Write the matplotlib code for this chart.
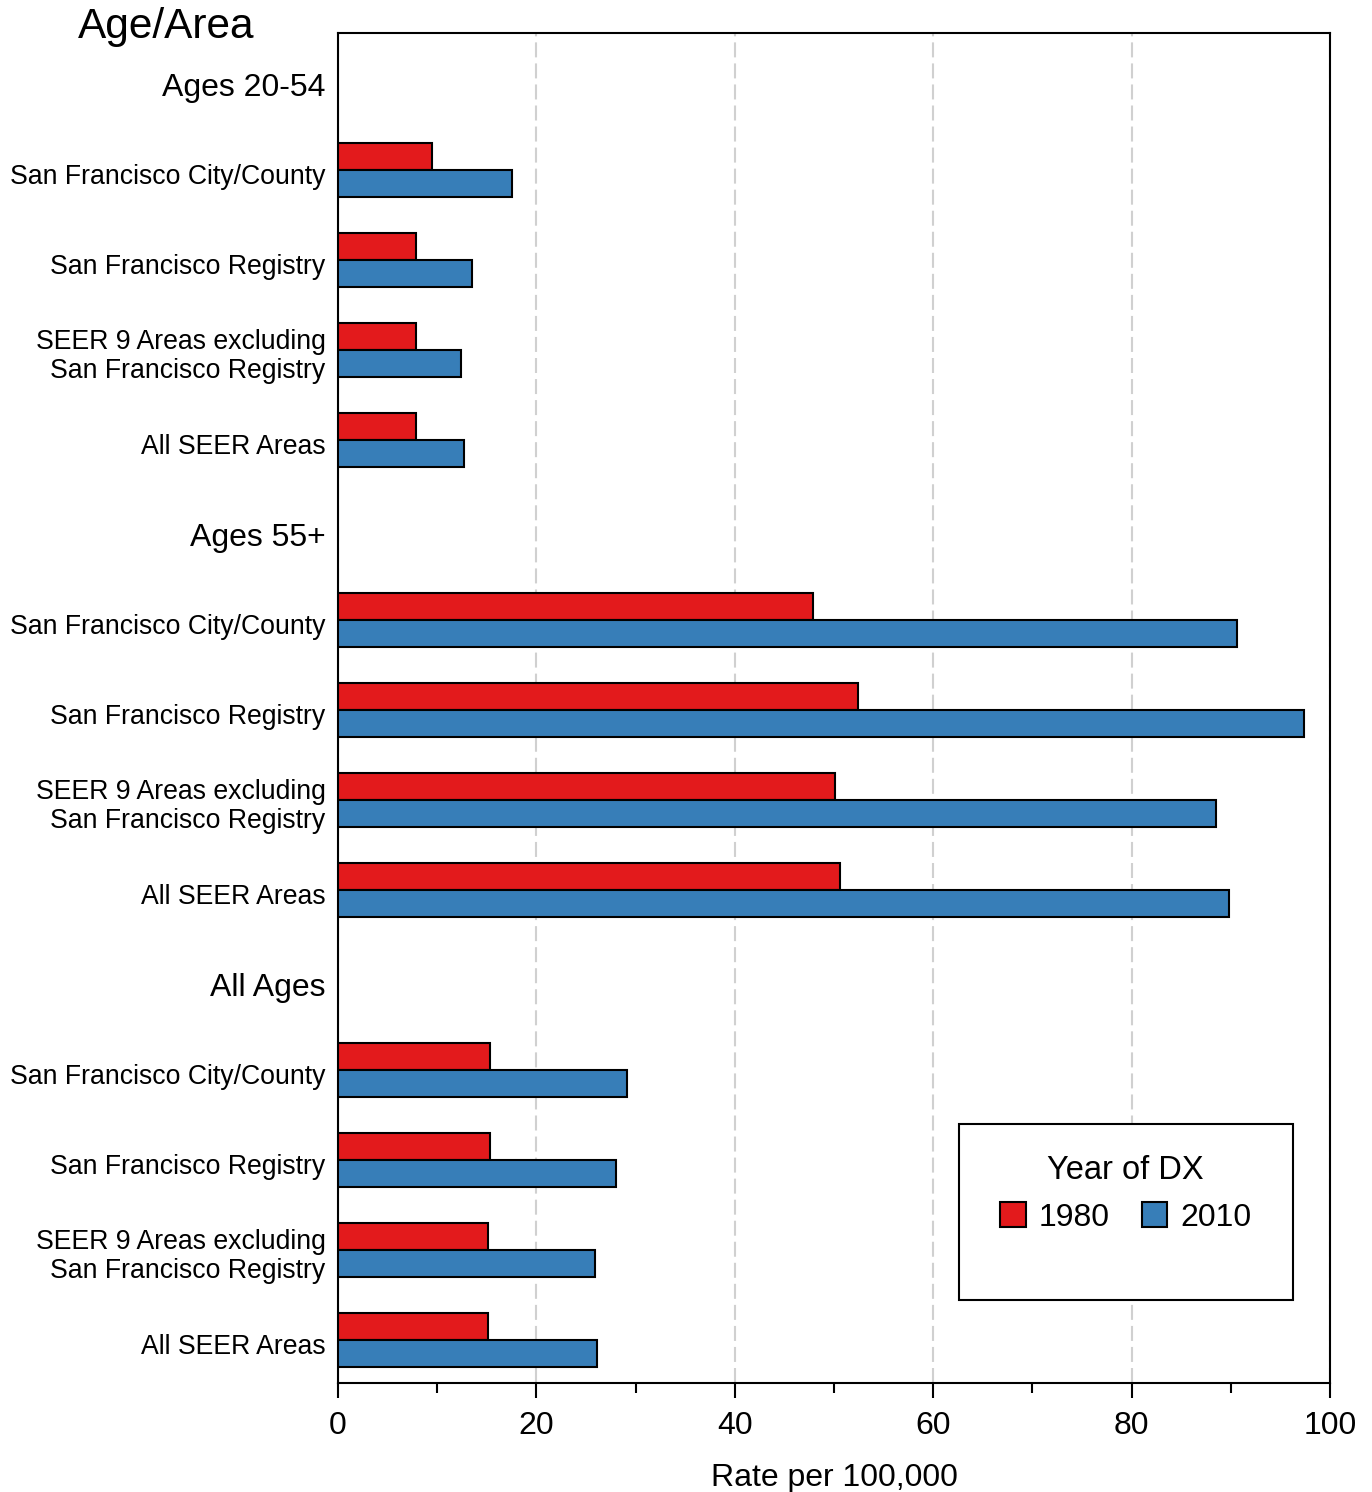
import numpy as np
import matplotlib
matplotlib.use('Agg')
import matplotlib.pyplot as plt
from matplotlib.patches import Patch, Rectangle

plt.rcParams['font.family'] = ['Liberation Sans', 'DejaVu Sans']

groups = ['Ages 20-54', 'Ages 55+', 'All Ages']
areas = ['San Francisco City/County',
         'San Francisco Registry',
         'SEER 9 Areas excluding\nSan Francisco Registry',
         'All SEER Areas']

# rate per 100,000, one list per age group, in the order of areas
rate_1980 = [[9.5, 7.9, 7.9, 7.9],
             [47.9, 52.4, 50.1, 50.6],
             [15.3, 15.3, 15.1, 15.1]]
rate_2010 = [[17.5, 13.5, 12.4, 12.7],
             [90.6, 97.4, 88.5, 89.8],
             [29.1, 28.0, 25.9, 26.1]]

red = '#E31A1C'
blue = '#377EB8'

fig = plt.figure(figsize=(13.72, 14.92), dpi=100)
ax = fig.add_axes([338/1372, 1-1383/1492, 992/1372, 1350/1492])

labels = []
ticks = []
header_pos = []
pos = 0
for g in range(len(groups)):
    labels.append(groups[g])
    ticks.append(pos + 0.055)
    header_pos.append(len(labels) - 1)
    pos += 1
    for a in range(len(areas)):
        ax.barh(pos - 0.15, rate_1980[g][a], height=0.3, color=red,
                edgecolor='black', linewidth=1.5, zorder=3)
        ax.barh(pos + 0.15, rate_2010[g][a], height=0.3, color=blue,
                edgecolor='black', linewidth=1.5, zorder=3)
        labels.append(areas[a])
        # label text sits a little below the bar pair centre
        ticks.append(pos + (0.025 if '\n' in areas[a] else 0.045))
        pos += 1

ax.set_ylim(14.478, -0.522)
ax.set_xlim(0, 100)
ax.set_yticks(ticks)
ax.set_yticklabels(labels, fontsize=19.2, linespacing=1.13)
for i, t in enumerate(ax.get_yticklabels()):
    if i in header_pos:
        t.set_fontsize(23)
ax.tick_params(axis='y', length=0, pad=9)

ax.set_xticks(np.arange(0, 101, 20))
ax.set_xticks(np.arange(10, 100, 20), minor=True)
ax.tick_params(axis='x', which='major', length=11, width=1.5, labelsize=23, pad=9)
ax.tick_params(axis='x', which='minor', length=7, width=1.5)
ax.grid(True, axis='x', linestyle=(0, (7.2, 2.9)), color='#d0d0d0', linewidth=1.5, zorder=0)
for s in ax.spines.values():
    s.set_linewidth(1.5)

ax.set_xlabel('Rate per 100,000', fontsize=23, labelpad=16)

fig.text(166/1372, 1-27/1492, 'Age/Area', fontsize=30.5, ha='center', va='center')

# legend with its own frame
ax.add_patch(Rectangle((0.626, 0.0615), 0.337, 0.1305, transform=ax.transAxes,
                       facecolor='white', edgecolor='black', linewidth=1.5, zorder=5))
handles = [Patch(facecolor=red, edgecolor='black', linewidth=1.5, label='1980'),
           Patch(facecolor=blue, edgecolor='black', linewidth=1.5, label='2010')]
leg = ax.legend(handles=handles, ncol=2, title='Year of DX', frameon=False,
                fontsize=23, title_fontsize=23.5, loc='upper center',
                bbox_to_anchor=(0.794, 0.19), handlelength=0.8, handleheight=0.8,
                handletextpad=0.4, columnspacing=1.0)
leg.set_zorder(6)

fig.savefig('out.png', dpi=100)
